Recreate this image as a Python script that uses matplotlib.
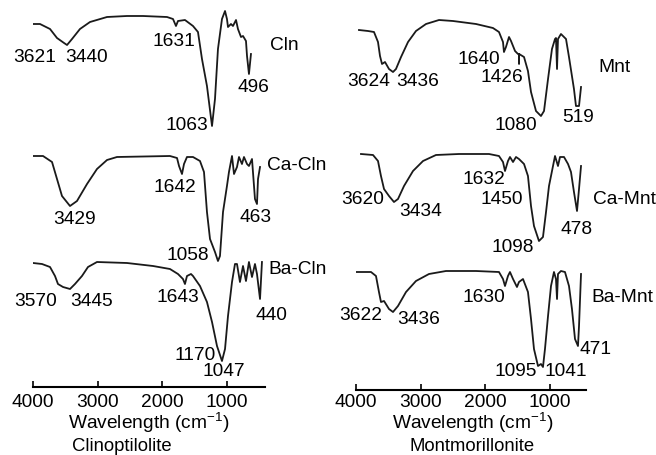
import matplotlib
matplotlib.use('Agg')
import matplotlib.pyplot as plt

plt.rcParams['font.family'] = ['Liberation Sans', 'DejaVu Sans']
plt.rcParams['mathtext.fontset'] = 'custom'
plt.rcParams['mathtext.rm'] = 'Liberation Sans'

# Clinoptilolite spectra (wavenumber cm-1, transmittance a.u.)
cln_wn = [4010, 3892, 3737, 3629, 3520, 3474, 3397, 3274, 3119, 2856, 2547, 2300, 1929,
          1836, 1790, 1759, 1651, 1527, 1450, 1388, 1311, 1233, 1187, 1141, 1079, 1032,
          1002, 986, 940, 909, 862, 832, 785, 754, 708, 692, 662, 631]
cln_t = [92, 92, 87, 78, 73, 71, 77, 87, 94, 99, 100, 100, 99,
         97, 90, 95, 96, 90, 84, 57, 30, -10, 17, 67, 97, 105,
         97, 89, 92, 90, 96, 87, 79, 80, 75, 60, 42, 62]

ca_cln_wn = [4000, 3845, 3706, 3629, 3552, 3428, 3320, 3165, 3011, 2856, 2702, 1883,
             1774, 1743, 1697, 1666, 1620, 1527, 1419, 1357, 1311, 1264, 1187, 1141,
             1110, 1063, 1002, 971, 924, 893, 847, 816, 770, 739, 692, 662, 615, 569,
             538, 522, 491]
ca_cln_t = [100, 100, 94, 77, 60, 50, 55, 72, 87, 96, 99, 100,
            98, 90, 82, 92, 99, 99, 95, 84, 44, 17, 4, -5,
            0, 44, 70, 84, 100, 82, 89, 99, 92, 99, 92, 90, 97, 57,
            52, 77, 89]

ba_cln_wn = [4000, 3861, 3737, 3660, 3614, 3536, 3428, 3351, 3243, 3150, 3011, 2547,
             2145, 1883, 1759, 1682, 1651, 1620, 1558, 1527, 1419, 1311, 1233, 1156,
             1079, 1032, 986, 924, 878, 847, 801, 754, 708, 662, 615, 569, 538, 491,
             461]
ba_cln_t = [99, 98, 95, 86, 78, 75, 73, 78, 86, 95, 100, 99,
            96, 93, 88, 83, 78, 86, 88, 86, 76, 60, 40, 16,
            1, 13, 46, 80, 98, 98, 80, 96, 81, 100, 85, 98, 88, 63,
            100]

# Montmorillonite spectra
mnt_wn = [3954, 3815, 3722, 3660, 3629, 3598, 3552, 3490, 3428, 3382, 3304, 3196, 3073,
          2918, 2717, 2501, 2145, 1883, 1790, 1728, 1713, 1682, 1635, 1604, 1542, 1496,
          1481, 1480, 1479, 1403, 1342, 1295, 1218, 1141, 1094, 1032, 971, 924, 909,
          893, 878, 832, 754, 708, 631, 600, 553, 522]
mnt_t = [90, 89, 88, 78, 64, 56, 58, 51, 48, 51, 63, 78, 89,
         96, 100, 99, 96, 92, 88, 78, 68, 73, 83, 79, 69, 66,
         66, 56, 66, 63, 49, 28, 9, 4, 9, 41, 71, 81, 82,
         51, 81, 86, 81, 63, 31, 14, 14, 33]

ca_mnt_wn = [3923, 3737, 3660, 3614, 3567, 3490, 3413, 3351, 3258, 3119, 2964, 2764,
             2408, 1944, 1790, 1728, 1697, 1651, 1620, 1573, 1527, 1481, 1403, 1342,
             1295, 1249, 1172, 1110, 1063, 1017, 955, 924, 878, 847, 785, 723, 677,
             631, 584, 553, 522]
ca_mnt_t = [100, 99, 93, 78, 65, 58, 52, 55, 68, 83, 93, 99,
            100, 100, 98, 92, 83, 93, 97, 92, 97, 95, 90, 78,
            48, 28, 13, 17, 42, 68, 88, 98, 88, 97, 97, 90, 82,
            62, 43, 65, 88]

ba_mnt_wn = [4000, 3768, 3691, 3645, 3614, 3567, 3490, 3428, 3351, 3227, 3073, 2872,
             2609, 2145, 1790, 1728, 1697, 1651, 1620, 1573, 1512, 1481, 1419, 1342,
             1295, 1249, 1187, 1141, 1110, 1079, 1032, 986, 940, 909, 893, 878, 832,
             770, 708, 662, 615, 569, 553, 522]
ba_mnt_t = [99, 99, 95, 79, 69, 70, 62, 59, 65, 79, 90, 97,
            100, 100, 99, 92, 85, 95, 99, 92, 84, 89, 92, 79,
            52, 22, 5, 7, 4, 22, 55, 85, 99, 92, 72, 97, 100,
            99, 85, 62, 32, 25, 45, 97]

# peak labels: (text, wavenumber position, level)
cln_labels = [('3621', 3969, 402), ('3440', 3165, 402), ('1631', 1821, 418),
              ('1063', 1620, 335), ('496', 600, 373),
              ('3429', 3351, 240), ('1642', 1805, 273), ('463', 553, 242), ('1058', 1604, 205),
              ('3570', 3954, 158), ('3445', 3088, 158), ('1643', 1759, 162), ('440', 321, 145),
              ('1170', 1496, 104), ('1047', 1048, 88)]
cln_names = [('Cln', 121, 415), ('Ca-Cln', -80, 295), ('Ba-Cln', -96, 190)]

mnt_labels = [('3624', 3799, 378), ('3436', 3042, 378), ('1640', 2099, 400),
              ('1426', 1743, 382), ('1080', 1527, 335), ('519', 569, 342),
              ('3620', 3892, 260), ('3434', 2995, 248), ('1632', 2022, 280),
              ('1450', 1743, 261), ('1098', 1573, 212), ('478', 584, 230),
              ('3622', 3923, 145), ('3436', 3026, 140), ('1630', 2022, 162),
              ('1095', 1527, 88), ('1041', 754, 88), ('471', 291, 110)]
mnt_names = [('Mnt', 12, 392), ('Ca-Mnt', -142, 260), ('Ba-Mnt', -111, 162)]

fig = plt.figure(figsize=(6.56, 4.56), dpi=100)
ax1 = fig.add_axes([33/656, 68/456, 232/656, 388/456])
ax2 = fig.add_axes([356/656, 65/456, 230/656, 391/456])

FS = 13.8
panels = [
    (ax1, [(cln_wn, cln_t, 343), (ca_cln_wn, ca_cln_t, 203), (ba_cln_wn, ba_cln_t, 97)],
     cln_labels + cln_names, (4000, 414), (72, 460), 'Clinoptilolite', 122, 149, 4),
    (ax2, [(mnt_wn, mnt_t, 339), (ca_mnt_wn, ca_mnt_t, 205), (ba_mnt_wn, ba_mnt_t, 88)],
     mnt_labels + mnt_names, (4000, 445), (69, 460), 'Montmorillonite', 472, 473, 2.5),
]

for ax, specs, labels, xl, yl, name, nx, wx, pad in panels:
    for wn, t, off in specs:
        ax.plot(wn, [v + off for v in t], color='#1a1a1a', lw=1.3)
    for txt, x, y in labels:
        ax.text(x, y, txt, ha='center', va='center', fontsize=FS, clip_on=False)
    ax.set_xlim(*xl)
    ax.set_ylim(*yl)
    for s in ['top', 'right', 'left']:
        ax.spines[s].set_visible(False)
    ax.spines['bottom'].set_linewidth(1.5)
    ax.set_yticks([])
    ax.set_xticks([4000, 3000, 2000, 1000])
    ax.tick_params(axis='x', direction='in', length=4, width=1.2, labelsize=FS, pad=pad)
    fig.text(wx / 656, 1 - 429 / 456, r'Wavelength (cm$^{\mathregular{-1}}$)',
             ha='center', va='baseline', fontsize=FS)
    fig.text(nx / 656, 1 - 451 / 456, name, ha='center', va='baseline', fontsize=FS - 0.5)
    ax.patch.set_visible(False)

fig.savefig('out.png', dpi=100)
